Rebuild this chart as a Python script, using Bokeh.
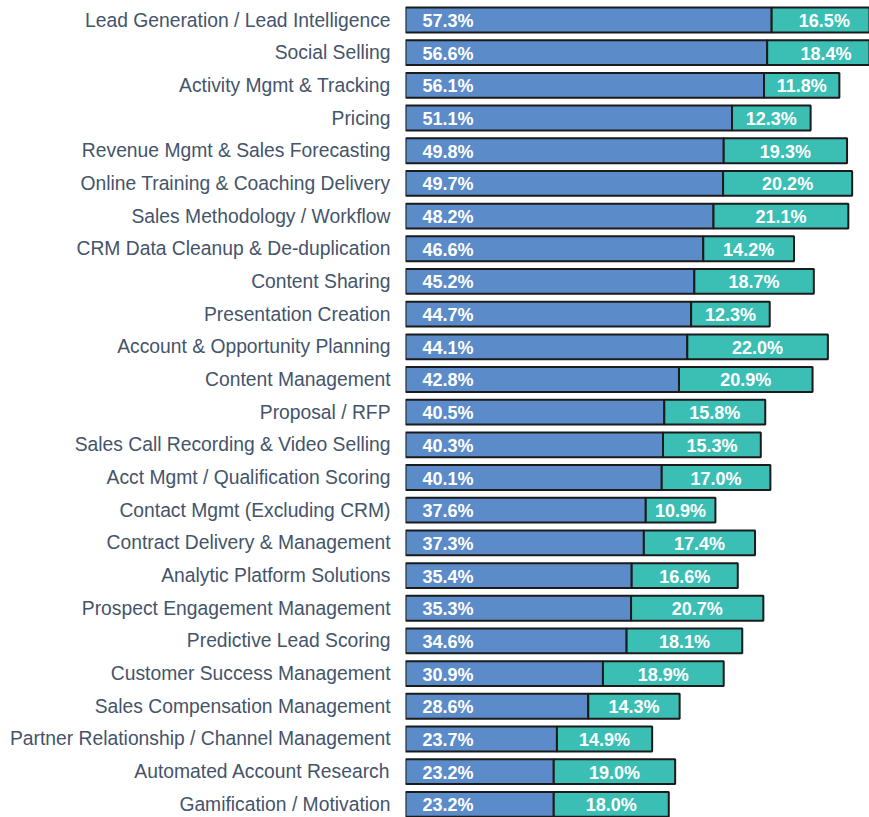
from bokeh.plotting import figure
from bokeh.models import ColumnDataSource, Range1d, FixedTicker, LabelSet
from bokeh.core.properties import value
from bokeh.embed import file_html
from bokeh.resources import INLINE

categories = [
    "Lead Generation / Lead Intelligence",
    "Social Selling",
    "Activity Mgmt & Tracking",
    "Pricing",
    "Revenue Mgmt & Sales Forecasting",
    "Online Training & Coaching Delivery",
    "Sales Methodology / Workflow",
    "CRM Data Cleanup & De-duplication",
    "Content Sharing",
    "Presentation Creation",
    "Account & Opportunity Planning",
    "Content Management",
    "Proposal / RFP",
    "Sales Call Recording & Video Selling",
    "Acct Mgmt / Qualification Scoring",
    "Contact Mgmt (Excluding CRM)",
    "Contract Delivery & Management",
    "Analytic Platform Solutions",
    "Prospect Engagement Management",
    "Predictive Lead Scoring",
    "Customer Success Management",
    "Sales Compensation Management",
    "Partner Relationship / Channel Management",
    "Automated Account Research",
    "Gamification / Motivation",
]
series_a = [57.3, 56.6, 56.1, 51.1, 49.8, 49.7, 48.2, 46.6, 45.2, 44.7, 44.1, 42.8, 40.5,
            40.3, 40.1, 37.6, 37.3, 35.4, 35.3, 34.6, 30.9, 28.6, 23.7, 23.2, 23.2]
series_b = [16.5, 18.4, 11.8, 12.3, 19.3, 20.2, 21.1, 14.2, 18.7, 12.3, 22.0, 20.9, 15.8,
            15.3, 17.0, 10.9, 17.4, 16.6, 20.7, 18.1, 18.9, 14.3, 14.9, 19.0, 18.0]

n = len(categories)
ypos = list(range(n))
src = ColumnDataSource(dict(
    y=ypos,
    a=series_a,
    b_end=[a + b for a, b in zip(series_a, series_b)],
    b_mid=[a + b / 2 for a, b in zip(series_a, series_b)],
    a_lbl=["%.1f%%" % v for v in series_a],
    b_lbl=["%.1f%%" % v for v in series_b],
    a_x=[0.0] * n,
))

W, H = 869, 817
frame_left = 405
px_per_unit = 6.39
x_end = (W - frame_left) / px_per_unit
step = 32.68
top_center = 19.5
y_start = -top_center / step
y_end = y_start + H / step

p = figure(width=W, height=H, output_backend="svg", toolbar_location=None,
           x_range=Range1d(0, x_end), y_range=Range1d(y_end, y_start),
           min_border_left=frame_left, min_border_right=0, min_border_top=0, min_border_bottom=0,
           x_axis_location=None)
p.outline_line_color = None
p.grid.visible = False
p.background_fill_color = "white"

p.hbar(y="y", left=0, right="a", height=0.76, source=src,
       fill_color="#5B8BC8", line_color="#1b1b1b", line_width=2)
p.hbar(y="y", left="a", right="b_end", height=0.76, source=src,
       fill_color="#3BBFB5", line_color="#1b1b1b", line_width=2)

la = LabelSet(x="a_x", y="y", text="a_lbl", source=src, x_offset=17, y_offset=-1,
              text_color="white", text_font=value("Liberation Sans"), text_font_style="bold",
              text_font_size="18px", text_baseline="middle", text_align="left")
lb = LabelSet(x="b_mid", y="y", text="b_lbl", source=src, y_offset=-1,
              text_color="white", text_font=value("Liberation Sans"), text_font_style="bold",
              text_font_size="18px", text_baseline="middle", text_align="center")
p.add_layout(la)
p.add_layout(lb)

ax = p.yaxis[0]
ax.ticker = FixedTicker(ticks=ypos)
ax.major_label_overrides = {i: c for i, c in enumerate(categories)}
ax.axis_line_color = None
ax.major_tick_line_color = None
ax.minor_tick_line_color = None
ax.major_tick_out = 0
ax.major_tick_in = 0
ax.major_label_standoff = 15
ax.major_label_text_font = "Liberation Sans"
ax.major_label_text_font_size = "19.3px"
ax.major_label_text_color = "#44546A"

open("out.html", "w").write(file_html(p, INLINE))
